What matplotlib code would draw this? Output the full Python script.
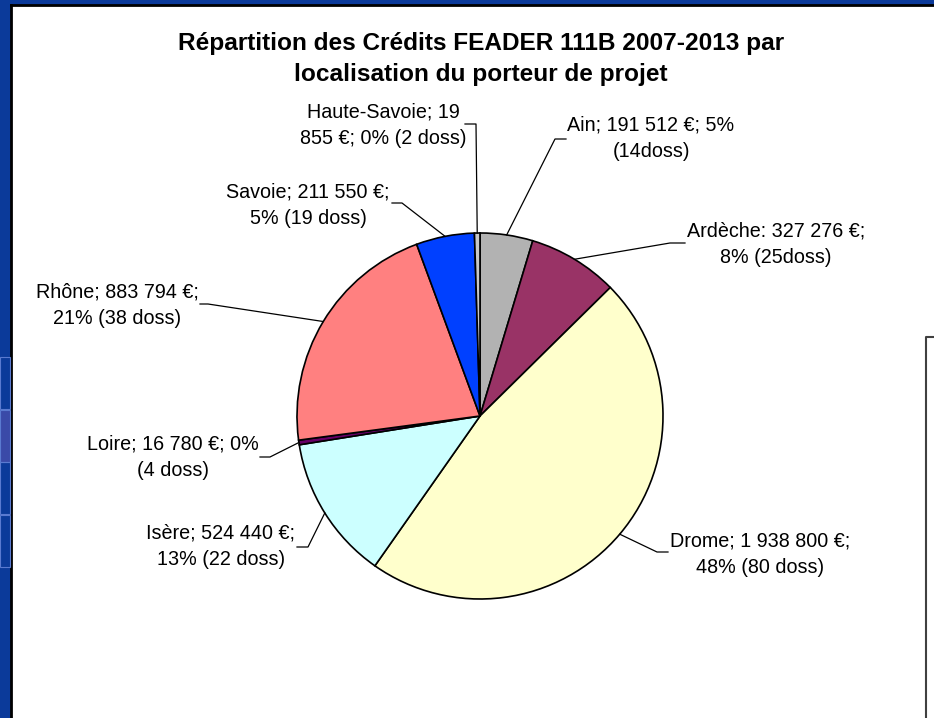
import matplotlib.pyplot as plt
from matplotlib.patches import Rectangle
from matplotlib.lines import Line2D
import numpy as np

W, H = 934, 718

departements = ['Ain', 'Ardèche', 'Drome', 'Isère', 'Loire', 'Rhône', 'Savoie', 'Haute-Savoie']
credits = [191512, 327276, 1938800, 524440, 16780, 883794, 211550, 19855]
colors = ['#B2B2B2', '#993366', '#FFFFCC', '#CCFFFF', '#660066', '#FF8080', '#0040FF', '#C8C8C8']
labels = [
    'Ain; 191 512 €; 5%\n(14doss)',
    'Ardèche: 327 276 €;\n8% (25doss)',
    'Drome; 1 938 800 €;\n48% (80 doss)',
    'Isère; 524 440 €;\n13% (22 doss)',
    'Loire; 16 780 €; 0%\n(4 doss)',
    'Rhône; 883 794 €;\n21% (38 doss)',
    'Savoie; 211 550 €;\n5% (19 doss)',
    'Haute-Savoie; 19\n855 €; 0% (2 doss)',
]
title = 'Répartition des Crédits FEADER 111B 2007-2013 par\nlocalisation du porteur de projet'

# label placement in pixels (y from top): text centre, leader start, elbow
label_pos = [(651, 138), (776, 244), (760, 554), (221, 546), (173, 457), (117, 305), (308, 205), (383, 125)]
leader_start = [(566, 139), (685, 243), (668, 552), (297, 547), (260, 457), (200, 304), (392, 203), (465, 124)]
leader_elbow = [(555, 139), (670, 243), (657, 552), (308, 547), (270, 457), (208, 304), (402, 203), (476, 124)]

cx, cy, r = 480, 416, 183


def fy(y):
    return H - y


plt.rcParams['font.family'] = ['Liberation Sans', 'DejaVu Sans']

fig = plt.figure(figsize=(W / 100, H / 100), dpi=100)
fig.patch.set_facecolor('#0B3A9A')
ax = fig.add_axes([0, 0, 1, 1])

# white panel with black border
ax.add_patch(Rectangle((11, 0), W - 11, fy(5), facecolor='white', edgecolor='none', zorder=0))
ax.add_line(Line2D([11, 11], [0, fy(5)], color='black', lw=2, zorder=1))
ax.add_line(Line2D([11, W], [fy(5), fy(5)], color='black', lw=2, zorder=1))

# faint squares on the left blue strip
for i, y0 in enumerate([357, 410, 462, 515]):
    ax.add_patch(Rectangle((0, fy(y0 + 52)), 10, 52, facecolor='#3A4AA8' if i == 1 else 'none',
                           edgecolor='#5A7AD0', lw=0.8, zorder=1))

# box on the right
ax.add_line(Line2D([926, 926, W], [0, fy(337), fy(337)], color='#404040', lw=1.5, zorder=1))

ax.pie(credits, colors=colors, startangle=90, counterclock=False,
       center=(cx, fy(cy)), radius=r,
       wedgeprops=dict(edgecolor='black', linewidth=1.2))

fracs = np.array(credits) / sum(credits)
cum = np.concatenate([[0], np.cumsum(fracs)])
mids = (cum[:-1] + cum[1:]) / 2 * 2 * np.pi

for lab, (tx, ty), (sx, sy), (ex, ey), th in zip(labels, label_pos, leader_start, leader_elbow, mids):
    px = cx + r * np.sin(th)
    py = cy - r * np.cos(th)
    ax.add_line(Line2D([sx, ex, px], [fy(sy), fy(ey), fy(py)], color='black', lw=0.9, zorder=5))
    ax.text(tx, fy(ty), lab, ha='center', va='center', fontsize=14.2, linespacing=1.5, zorder=6)

ax.text(481, fy(59), title, ha='center', va='center', fontsize=17.6, fontweight='bold', linespacing=1.45)

ax.set_xlim(0, W)
ax.set_ylim(0, H)
ax.set_aspect('auto')
ax.axis('off')

fig.savefig('out.png', dpi=100, facecolor=fig.get_facecolor())
